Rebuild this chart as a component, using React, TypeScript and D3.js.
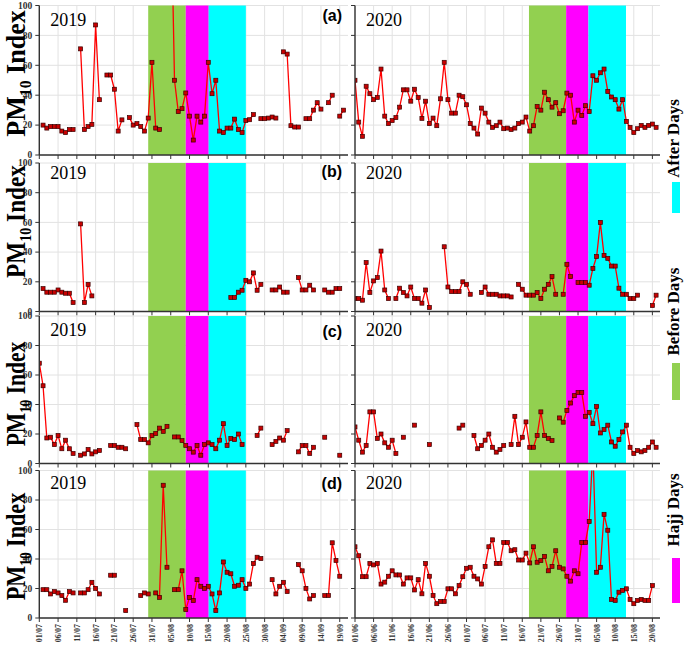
import React from "react";
import * as d3 from "d3";

const _ = null;

const ticks2019 = ["01/07","06/07","11/07","16/07","21/07","26/07","31/07","05/08","10/08","15/08","20/08","25/08","30/08","04/09","09/09","14/09","19/09"];
const ticks2020 = ["01/06","06/06","11/06","16/06","21/06","26/06","01/07","06/07","11/07","16/07","21/07","26/07","31/07","05/08","10/08","15/08","20/08"];
const yTicks = [0, 20, 40, 60, 80, 100];
const panelLetters = ["(a)", "(b)", "(c)", "(d)"];
const years = ["2019", "2020"];
const legendLabels = ["After Days", "Before Days", "Hajj Days"];

// band edges in day index: before start, hajj start, after start, after end
const bands2019 = [29, 39, 45.1, 55];
const bands2020 = [46.8, 56.8, 62.8, 72.9];

const a2019 = [_,20,18,19,19,19,16,15,17,17,
  _,71,17,19,20.5,87,37,_,53.5,53.5,
  44,16,23.5,_,25,20,21,19,16,24.7,
  62,18,17,_,_,180,50,29,31,41.5,
  26,10,26,22,26,62,41,50,16,15,
  18,18,24,17,15,23,23.6,27,_,24.3,
  24.3,24.7,25.4,24.7,_,69,67.5,19.6,18.7,18.7,
  _,24.3,24.3,30,35,30.7,_,35,40,_,
  26,30];
const a2020 = [50,22,12.5,46,41,37,38.5,57.5,26,21,
  23,25,32,43.6,43.6,36,44,38.5,24.5,36,
  21,24.7,19.6,37.6,62,37,28,28,40,39,
  33.6,21,18,14,31.4,28,22,18.5,19.6,22,
  17.6,18,17,18,21,22,25.4,16,19.6,32.5,
  30,42,37,32,35,27.6,29.6,41.4,40,22,
  30,26.5,33,29,53,50,55,57.5,42.5,38.8,
  37,30.7,37,22.5,18.5,15,17.6,19.8,18.5,19.8,
  20.7,18.5];
const b2019 = [_,15.4,13,13,13,14.5,13,12.3,12.3,6,
  _,59,6,18.3,10.5,_,_,_,_,_,
  _,_,_,_,_,_,_,_,_,_,
  _,_,_,_,_,_,_,_,_,_,
  _,_,_,_,_,_,_,_,_,_,
  _,9.4,9.4,13,14.3,21,20,26,14.3,18.3,
  _,_,14.5,14.5,16.5,13,13,_,_,22.8,
  14.5,14.5,17.7,14.5,_,_,14.5,13,13,15.4,
  15.4];
const b2020 = [8.7,8.7,7.6,33,12.8,20.6,22.8,40.7,14.5,8.7,
  _,8.7,15.7,12.8,10.5,16.5,8.7,8.7,5.6,14.5,
  2.7,_,_,_,43.6,16.5,13.4,13.4,13.4,20,
  18.3,11.6,_,_,12.8,16.5,11.6,11.6,11.6,10.5,
  10.5,10.5,9.8,_,18.3,15,11,11,11,12.8,
  8.7,15,18.3,23.5,11.6,_,11.6,31.8,23.5,_,
  19.5,19.5,19.5,17.7,29,37,60,37.8,35.8,30.6,
  30.6,15.7,11.6,11.6,8.7,8.7,11,_,_,_,
  4,11];
const c2019 = [68,52.7,17.3,17.8,12.8,19,10,15.8,10,6.8,
  _,5.6,6.5,9.5,6.5,7.9,8.8,_,_,12.2,
  12.2,11,11,10,_,_,26.4,16.2,16.2,14,
  19,20.3,24,21.8,25.2,_,18,18,15.5,12.2,
  10,7.7,12.2,5.6,12.8,14,12.8,10,15.8,27,
  12.2,17,16.2,20,12.8,_,_,_,19,24,
  _,_,12.8,15,17.3,15.8,22.3,_,_,7.9,
  12.2,12.2,6.8,11,_,_,17.8,_,_,_,
  5.6];
const c2020 = [24.8,15.8,7.7,12.2,35,35,17,20,14,11,
  15.8,6.8,_,17.8,_,_,26,_,_,_,
  12.8,_,_,_,_,_,_,_,24,26,
  _,_,19,10,12.2,15.8,20,11,7.7,9.5,
  12.2,_,12.8,32,12.8,17.8,28.2,11,11,19,
  35,19,17,15.5,_,30.9,28,36,41,46,
  48.2,48.2,32,34.7,27,38.7,20.7,23,26,14.6,
  11.7,16.2,21.4,26,11,6.8,8.8,7.9,8.8,11,
  14.6,11];
const d2019 = [_,19.2,19.2,16.3,17.9,17,15.2,12,17.9,17,
  _,17,17,19.2,24.2,20.1,16.3,_,_,29,
  29,_,_,5,_,_,_,15.2,17,16.3,
  _,17,14,90,34.4,_,19.2,19.2,32,5.7,
  14,11.8,26,21.5,20.1,21.5,16.3,5,17,38,
  31,30,21.5,22.2,26,20.1,23,36.9,41.2,40.3,
  _,_,26,16.3,21.5,24.2,17.9,_,_,36.2,
  32,20.1,12.9,15.2,_,_,15.2,15.2,51,39,
  28.3];
const d2020 = [48.3,42.2,28,28,37,36,37,23,24.3,28.3,
  32,29.2,29.2,23,27.2,27.2,19,26,16.4,37,
  28.3,15.3,9.7,11.2,11.2,19.8,19.8,16.4,22,28,
  33.7,34.4,28.3,26.5,23,35,48.3,53,37,37,
  51.2,51.2,45.6,46.3,39.3,39.3,44,37.3,48.3,37.8,
  38.9,41.8,32,35,45.6,34.4,33.3,28.3,25,32,
  30,51.2,51.2,65.4,115,31,34.4,70.3,59.5,12.6,
  11.9,17.5,18.7,19.8,12.6,9.7,11.9,12.6,11.9,11.9,
  22];

const seriesGrid = [
  [a2019, a2020],
  [b2019, b2020],
  [c2019, c2020],
  [d2019, d2020],
];

const rows = [
  { top: 5.5, bottom: 155, labelY: 73.5, labelScale: 0.93, yearY: 26, letterY: 21 },
  { top: 163, bottom: 311.5, labelY: 221.5, labelScale: 0.83, yearY: 179, letterY: 177 },
  { top: 316, bottom: 463.5, labelY: 394, labelScale: 0.77, yearY: 335.5, letterY: 337 },
  { top: 470.5, bottom: 618, labelY: 546.5, labelScale: 0.79, yearY: 489, letterY: 489 },
];
const cols = [
  { left: 39.3, right: 348, maxDay: 82.2, ticks: ticks2019, bands: bands2019 },
  { left: 355, right: 660, maxDay: 82.05, ticks: ticks2020, bands: bands2020 },
];

const bandColors = ["#92d050", "#ff00ff", "#00ffff"];
const serif = "'Liberation Serif', 'Times New Roman', serif";
const sans = "'Liberation Sans', Arial, sans-serif";

function Panel({ r, c }: { r: number; c: number }) {
  const row = rows[r];
  const col = cols[c];
  const data = seriesGrid[r][c];
  const x = d3.scaleLinear().domain([0, col.maxDay]).range([col.left, col.right]);
  const y = d3.scaleLinear().domain([0, 100]).range([row.bottom, row.top]);
  const pts = data.map((v, i) => ({ d: i, v }));
  const line = d3
    .line<{ d: number; v: number | null }>()
    .defined((p) => p.v != null)
    .x((p) => x(p.d))
    .y((p) => y(p.v as number));
  const tickDays = col.ticks.map((_t, i) => i * 5);
  const clipId = `clip-${r}-${c}`;
  const b = col.bands;
  return (
    <g>
      <defs>
        <clipPath id={clipId}>
          <rect x={col.left} y={row.top} width={col.right - col.left} height={row.bottom - row.top} />
        </clipPath>
      </defs>
      {tickDays.map((t) => (
        <line key={"gx" + t} x1={x(t)} x2={x(t)} y1={row.top} y2={row.bottom} stroke="#e2e2e2" strokeWidth={1} />
      ))}
      {yTicks.map((t) => (
        <line key={"gy" + t} x1={col.left} x2={col.right} y1={y(t)} y2={y(t)} stroke="#e2e2e2" strokeWidth={1} />
      ))}
      {[0, 1, 2].map((k) => (
        <rect key={"band" + k} x={x(b[k])} y={row.top} width={x(b[k + 1]) - x(b[k])} height={row.bottom - row.top} fill={bandColors[k]} />
      ))}
      <g clipPath={`url(#${clipId})`}>
        <path d={line(pts) || ""} fill="none" stroke="#ff0000" strokeWidth={1.3} />
        {pts
          .filter((p) => p.v != null)
          .map((p) => (
            <rect key={"m" + p.d} x={x(p.d) - 2} y={y(p.v as number) - 2} width={4} height={4} fill="#c80000" stroke="#3a0000" strokeWidth={0.7} />
          ))}
      </g>
      <line x1={col.left} x2={col.left} y1={row.top} y2={row.bottom} stroke="#333" strokeWidth={1.4} />
      <line x1={col.left} x2={col.right} y1={row.bottom} y2={row.bottom} stroke="#333" strokeWidth={1.4} />
      {yTicks.map((t) => (
        <line key={"yt" + t} x1={col.left - 4} x2={col.left} y1={y(t)} y2={y(t)} stroke="#333" strokeWidth={1} />
      ))}
      {tickDays.map((t) => (
        <line key={"xt" + t} x1={x(t)} x2={x(t)} y1={row.bottom} y2={row.bottom + 4} stroke="#333" strokeWidth={1} />
      ))}
      {c === 0 &&
        yTicks.map((t) => (
          <text key={"yl" + t} x={col.left - 7} y={y(t) + 3.3} textAnchor="end" fontFamily={serif} fontWeight="bold" fontSize={9.5} fill="#333">
            {t}
          </text>
        ))}
      {r === 3 &&
        col.ticks.map((lab, i) => (
          <text
            key={"xl" + lab}
            transform={`translate(${x(tickDays[i]) + 3},${row.bottom + 6}) rotate(-90)`}
            textAnchor="end"
            fontFamily={serif}
            fontWeight="bold"
            fontSize={8}
            fill="#333"
          >
            {lab}
          </text>
        ))}
      <text x={col.left + 11} y={row.yearY} fontFamily={serif} fontSize={18} fill="#000">
        {years[c]}
      </text>
      {c === 0 && (
        <text x={342} y={row.letterY} textAnchor="end" fontFamily={sans} fontWeight="bold" fontSize={16} fill="#000">
          {panelLetters[r]}
        </text>
      )}
    </g>
  );
}

export default function App() {
  const legend = [
    { label: legendLabels[0], cy: 138.5, box: [182, 213], color: bandColors[2] },
    { label: legendLabels[1], cy: 311.5, box: [363, 400], color: bandColors[0] },
    { label: legendLabels[2], cy: 510, box: [558, 603], color: bandColors[1] },
  ];
  return (
    <svg width={685} height={645} style={{ position: "absolute", left: 0, top: 0, background: "#fff" }}>
      <rect x={0} y={0} width={685} height={645} fill="#fff" />
      {rows.map((_r, r) => cols.map((_c, c) => <Panel key={`${r}-${c}`} r={r} c={c} />))}
      {rows.map((row, r) => (
        <text
          key={"pm" + r}
          transform={`translate(25,${row.labelY}) rotate(-90) scale(${row.labelScale},1)`}
          textAnchor="middle"
          fontFamily={serif}
          fontWeight="bold"
          fontSize={28}
          fill="#000"
        >
          <tspan>PM</tspan>
          <tspan fontSize={17} dy={6}>10</tspan>
          <tspan dy={-6}> Index</tspan>
        </text>
      ))}
      {legend.map((l) => (
        <g key={l.label}>
          <text transform={`translate(679,${l.cy}) rotate(-90)`} textAnchor="middle" fontFamily={serif} fontWeight="bold" fontSize={17} fill="#000">
            {l.label}
          </text>
          <rect x={672} y={l.box[0]} width={8} height={l.box[1] - l.box[0]} fill={l.color} />
        </g>
      ))}
    </svg>
  );
}
